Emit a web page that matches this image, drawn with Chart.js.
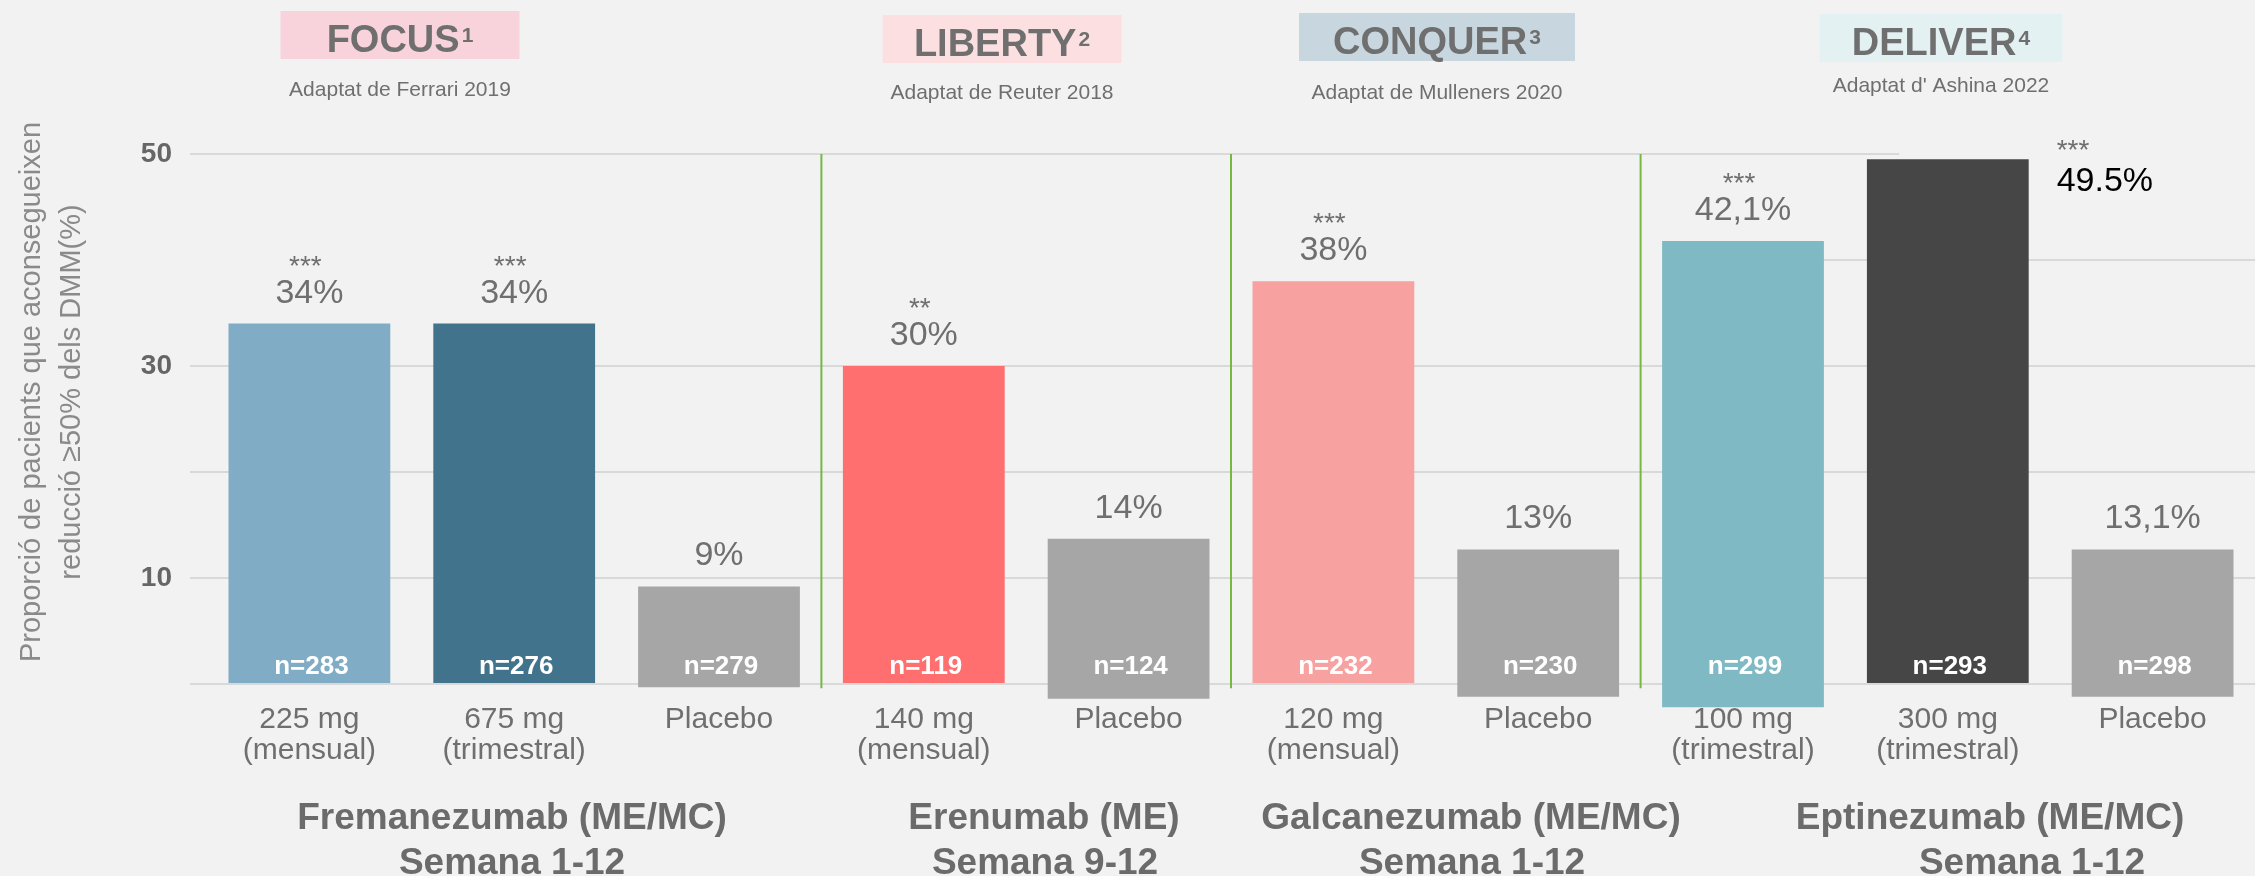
<!DOCTYPE html>
<html>
<head>
<meta charset="utf-8">
<script src="https://cdn.jsdelivr.net/npm/chart.js@4.4.1/dist/chart.umd.min.js"></script>
<style>
  html, body { margin: 0; padding: 0; background: #f2f2f2; }
  #wrap { width: 2255px; height: 876px; }
</style>
</head>
<body>
<div id="wrap"><canvas id="chart" width="2255" height="876"></canvas></div>
<script>
// Dosi / categories
const doseLabels = [
  ['225 mg', '(mensual)'], ['675 mg', '(trimestral)'], 'Placebo',
  ['140 mg', '(mensual)'], 'Placebo',
  ['120 mg', '(mensual)'], 'Placebo',
  ['100 mg', '(trimestral)'], ['300 mg', '(trimestral)'], 'Placebo'
];
// % pacients amb reducció >=50% (altura de la barra)
const responderPct = [34, 34, 9.2, 30, 13.7, 38, 12.7, 41.8, 49.5, 12.7];
// peu de cada barra (algunes baixen per sota de 0 a l'original)
const barBottom = [0, 0, -0.3, 0, -1.4, 0, -1.2, -2.2, 0, -1.2];
const valueText = ['34%', '34%', '9%', '30%', '14%', '38%', '13%', '42,1%', '49.5%', '13,1%'];
const signif = ['***', '***', '', '**', '', '***', '', '***', '***', ''];
const sampleN = ['n=283', 'n=276', 'n=279', 'n=119', 'n=124', 'n=232', 'n=230', 'n=299', 'n=293', 'n=298'];
const barColors = ['#80adc5', '#41748c', '#a6a6a6', '#ff6f6f', '#a6a6a6', '#f7a1a1', '#a6a6a6', '#7fbac4', '#464646', '#a6a6a6'];
const yTickLabels = [10, 30, 50];

// Estudis
const studies = ['FOCUS', 'LIBERTY', 'CONQUER', 'DELIVER'];
const studyRefs = ['1', '2', '3', '4'];
const studySources = ['Adaptat de Ferrari 2019', 'Adaptat de Reuter 2018', 'Adaptat de Mulleners 2020', "Adaptat d' Ashina 2022"];
const studyBoxColors = ['#f8d3dc', '#fcdfe0', '#c7d6df', '#e3f1f2'];
const drugs = ['Fremanezumab (ME/MC)', 'Erenumab (ME)', 'Galcanezumab (ME/MC)', 'Eptinezumab (ME/MC)'];
const weeks = ['Semana 1-12', 'Semana 9-12', 'Semana 1-12', 'Semana 1-12'];
const groupStart = [0, 3, 5, 7];

// maquetació (píxels)
const headerX = [400, 1002, 1437, 1941];
const headerW = [239, 239, 276, 243];
const headerTop = [11, 15, 13, 14];
const sourceY = [96, 99, 99, 92];
const drugX = [512, 1044, 1471, 1990];
const weekX = [512, 1045, 1472, 2032];

const FONT = "'Liberation Sans', Arial, sans-serif";
const GRID = '#d9d9d9';
const TEXT = '#6f6f6f';

const annotations = {
  id: 'annotations',
  beforeDatasetsDraw(chart) {
    const { ctx } = chart;
    const y = chart.scales.y;
    const bars = chart.getDatasetMeta(0).data;
    ctx.save();
    ctx.strokeStyle = GRID;
    ctx.lineWidth = 2;
    // línia de 50 fins al DELIVER
    ctx.beginPath();
    ctx.moveTo(chart.chartArea.left - 17, y.getPixelForValue(50));
    ctx.lineTo(bars[8].x - bars[8].width * 0.3, y.getPixelForValue(50));
    ctx.stroke();
    // línia de 40 només al DELIVER
    ctx.beginPath();
    ctx.moveTo(bars[7].x, y.getPixelForValue(40));
    ctx.lineTo(chart.chartArea.right, y.getPixelForValue(40));
    ctx.stroke();
    ctx.restore();
  },
  afterDatasetsDraw(chart) {
    const { ctx } = chart;
    const y = chart.scales.y;
    const bars = chart.getDatasetMeta(0).data;
    ctx.save();

    // separadors verds
    ctx.strokeStyle = '#77b843';
    ctx.lineWidth = 2;
    groupStart.slice(1).forEach(i => {
      const x = (bars[i - 1].x + bars[i].x) / 2;
      ctx.beginPath();
      ctx.moveTo(x, y.getPixelForValue(50));
      ctx.lineTo(x, y.getPixelForValue(-0.4));
      ctx.stroke();
    });

    // valors, asteriscs i n
    bars.forEach((bar, i) => {
      const top = y.getPixelForValue(responderPct[i]);
      if (i === 8) {
        ctx.textAlign = 'left';
        ctx.fillStyle = '#000';
        ctx.font = '34px ' + FONT;
        ctx.fillText(valueText[i], bar.x + bar.width / 2 + 28, top + 32);
        ctx.fillStyle = TEXT;
        ctx.font = '28px ' + FONT;
        ctx.fillText(signif[i], bar.x + bar.width / 2 + 28, top + 0);
      } else {
        ctx.textAlign = 'center';
        ctx.fillStyle = TEXT;
        ctx.font = '34px ' + FONT;
        const base = top - 21;
        ctx.fillText(valueText[i], bar.x, base);
        ctx.font = '28px ' + FONT;
        if (signif[i]) ctx.fillText(signif[i], bar.x - 4, base - 28);
      }
      ctx.textAlign = 'center';
      ctx.fillStyle = '#fff';
      ctx.font = 'bold 26px ' + FONT;
      ctx.fillText(sampleN[i], bar.x + 2, y.getPixelForValue(0) - 10);
    });

    // capçaleres dels estudis
    studies.forEach((name, k) => {
      ctx.fillStyle = studyBoxColors[k];
      ctx.fillRect(headerX[k] - headerW[k] / 2, headerTop[k], headerW[k], 48);
      ctx.font = 'bold 38px ' + FONT;
      const w1 = ctx.measureText(name).width;
      ctx.font = 'bold 21px ' + FONT;
      const w2 = ctx.measureText(studyRefs[k]).width;
      const x0 = headerX[k] - (w1 + w2 + 2) / 2;
      ctx.textAlign = 'left';
      ctx.fillStyle = TEXT;
      ctx.font = 'bold 38px ' + FONT;
      ctx.fillText(name, x0, headerTop[k] + 41);
      ctx.font = 'bold 21px ' + FONT;
      ctx.fillText(studyRefs[k], x0 + w1 + 2, headerTop[k] + 31);
      ctx.textAlign = 'center';
      ctx.font = '21px ' + FONT;
      ctx.fillText(studySources[k], headerX[k], sourceY[k]);
    });

    // fàrmacs i setmanes
    ctx.fillStyle = '#6b6b6b';
    ctx.font = 'bold 37px ' + FONT;
    ctx.textAlign = 'center';
    drugs.forEach((d, k) => {
      ctx.fillText(d, drugX[k], 829);
      ctx.fillText(weeks[k], weekX[k], 874);
    });

    // títol de l'eix Y
    ctx.fillStyle = '#8a8a8a';
    ctx.font = '29px ' + FONT;
    ctx.translate(0, 392);
    ctx.rotate(-Math.PI / 2);
    ctx.fillText('Proporció de pacients que aconsegueixen', 0, 40);
    ctx.fillText('reducció ≥50% dels DMM(%)', 0, 80);
    ctx.restore();
  }
};

new Chart(document.getElementById('chart'), {
  type: 'bar',
  data: {
    labels: doseLabels,
    datasets: [{
      data: responderPct.map((v, i) => [barBottom[i], v]),
      backgroundColor: barColors,
      borderWidth: 0,
      borderSkipped: false,
      barPercentage: 0.79,
      categoryPercentage: 1,
      clip: false
    }]
  },
  options: {
    responsive: false,
    animation: false,
    layout: { padding: { top: 154, right: 0, bottom: 0, left: 0 } },
    plugins: { legend: { display: false }, tooltip: { enabled: false } },
    scales: {
      x: {
        grid: { display: false },
        border: { display: false },
        ticks: {
          color: TEXT,
          font: { family: FONT, size: 30, lineHeight: 1.03 },
          padding: 12,
          maxRotation: 0,
          autoSkip: false
        },
        afterFit: s => { s.height = 192; }
      },
      y: {
        min: 0,
        max: 50,
        border: { display: false },
        grid: {
          color: c => (c.tick.value === 40 || c.tick.value === 50) ? 'transparent' : GRID,
          tickColor: c => (c.tick.value === 40 || c.tick.value === 50) ? 'transparent' : GRID,
          lineWidth: 2,
          tickLength: 17
        },
        ticks: {
          stepSize: 10,
          color: '#666',
          padding: 18,
          font: { family: FONT, size: 28, weight: 'bold' },
          callback: v => yTickLabels.includes(v) ? v : ''
        },
        afterFit: s => { s.width = 207; }
      }
    }
  },
  plugins: [annotations]
});
</script>
</body>
</html>
